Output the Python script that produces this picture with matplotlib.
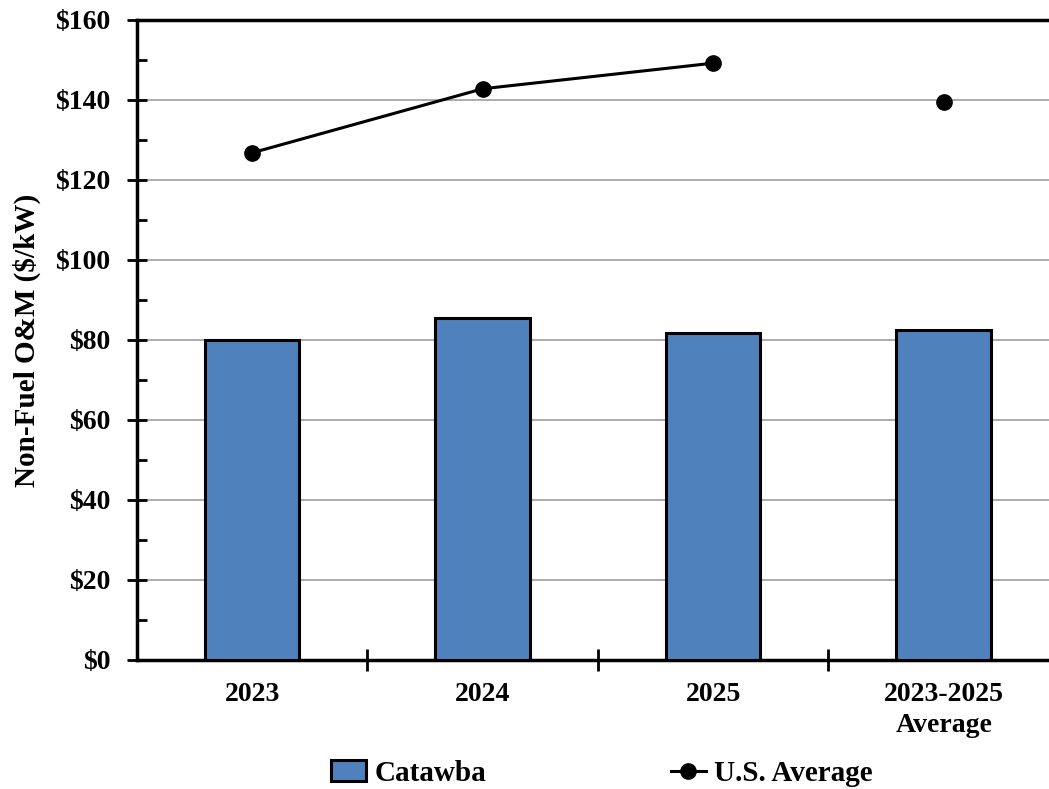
import matplotlib.pyplot as plt
from matplotlib.ticker import MultipleLocator, FuncFormatter

# Chart data
categories = ["2023", "2024", "2025", "2023-2025\nAverage"]
catawba = [80.0, 85.5, 81.7, 82.4]
us_average_years = [126.8, 142.8, 149.2]
us_average_overall = 139.4

plt.rcParams['font.family'] = ['Liberation Serif', 'DejaVu Serif']
plt.rcParams['font.weight'] = 'bold'
plt.rcParams['axes.labelweight'] = 'bold'

fig = plt.figure(figsize=(10.49, 7.89), dpi=100)
ax = fig.add_axes([0.1306, 0.1635, 0.8789, 0.8112])

x = list(range(len(categories)))

# Bars
bars = ax.bar(x, catawba, width=0.41, color='#4f81bd', edgecolor='black',
              linewidth=2.2, zorder=3, label='Catawba')

# U.S. average line (yearly) plus the separate 3-year average point
line, = ax.plot(x[:3], us_average_years, color='black', linewidth=2.2,
                marker='o', markersize=11, zorder=4, label='U.S. Average')
ax.plot([x[3]], [us_average_overall], color='black', linestyle='none',
        marker='o', markersize=11, zorder=4)

# Axes limits and ticks
ax.set_xlim(-0.5, 3.5)
ax.set_ylim(0, 160)
ax.yaxis.set_major_locator(MultipleLocator(20))
ax.yaxis.set_minor_locator(MultipleLocator(10))
ax.yaxis.set_major_formatter(FuncFormatter(lambda v, p: f"${v:.0f}"))
ax.tick_params(axis='y', which='major', direction='inout', length=14,
               width=2, labelsize=20, pad=12)
ax.tick_params(axis='y', which='minor', direction='in', length=7, width=2)

ax.set_xticks(x)
ax.set_xticklabels(categories, fontsize=20, linespacing=1.3)
ax.set_xticks([0.5, 1.5, 2.5], minor=True)
ax.tick_params(axis='x', which='major', length=0, pad=16)
ax.tick_params(axis='x', which='minor', direction='inout', length=16, width=2)

ax.grid(axis='y', color='#a6a6a6', linewidth=1.3, zorder=0)
ax.set_axisbelow(True)

for side in ['left', 'bottom', 'top']:
    ax.spines[side].set_linewidth(2.5)
ax.spines['right'].set_visible(False)

ax.set_ylabel("Non-Fuel O&M (\\$/kW)", fontsize=21, fontweight='bold', labelpad=10)

# Legend below the plot
fig.legend([bars, line], ['Catawba', 'U.S. Average'], loc='center',
           bbox_to_anchor=(0.574, 0.02), ncol=2, frameon=False,
           fontsize=21, columnspacing=6.3, handlelength=1.2,
           handletextpad=0.3)

fig.savefig("out.png", dpi=100)
